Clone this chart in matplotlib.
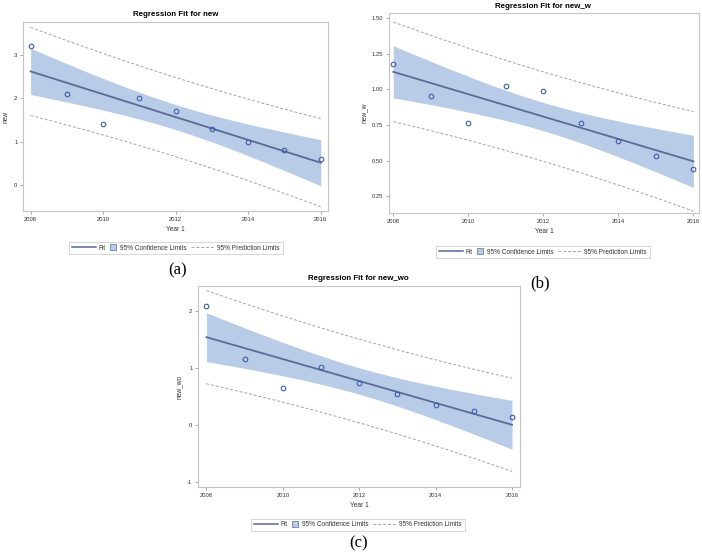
import numpy as np
import matplotlib.pyplot as plt
from matplotlib.lines import Line2D
from matplotlib.legend_handler import HandlerLine2D

years = [2008, 2009, 2010, 2011, 2012, 2013, 2014, 2015, 2016]
new = [3.2, 2.1, 1.4, 2.0, 1.7, 1.3, 1.0, 0.8, 0.6]
new_w = [1.18, 0.95, 0.76, 1.02, 0.99, 0.765, 0.635, 0.535, 0.44]
new_wo = [2.08, 1.16, 0.655, 1.02, 0.74, 0.54, 0.357, 0.25, 0.146]

T_975_DF7 = 2.3646  # t quantile for 95% limits with n-2 = 7 df

FILL = "#B8CCE7"
FIT = "#5A6B96"
MARK = "#3F5CAA"
PRED = "#A3A3A3"
FRAME = "#C4C4C4"
W, H = 702, 555


class SquareHandler(HandlerLine2D):
    # narrow handle box so the little square sits next to its text
    def legend_artist(self, legend, orig_handle, fontsize, handlebox):
        handlebox.width = fontsize * 1.1
        return super().legend_artist(legend, orig_handle, fontsize, handlebox)


def fig_rect(left, top, right, bottom):
    return [left / W, 1 - bottom / H, (right - left) / W, (bottom - top) / H]


def regression_panel(fig, rect, x, y, ylabel, yticks, ylim, xlim, fmt):
    ax = fig.add_axes(rect)
    x = np.asarray(x, float)
    y = np.asarray(y, float)
    n = len(x)
    xm = x.mean()
    sxx = ((x - xm) ** 2).sum()
    slope = ((x - xm) * (y - y.mean())).sum() / sxx
    icpt = y.mean() - slope * xm
    s = np.sqrt(((y - (icpt + slope * x)) ** 2).sum() / (n - 2))

    grid = np.linspace(x.min(), x.max(), 200)
    fit = icpt + slope * grid
    ci = T_975_DF7 * s * np.sqrt(1 / n + (grid - xm) ** 2 / sxx)
    pi = T_975_DF7 * s * np.sqrt(1 + 1 / n + (grid - xm) ** 2 / sxx)

    ax.fill_between(grid, fit - ci, fit + ci, color=FILL, lw=0, zorder=1)
    ax.plot(grid, fit + pi, color=PRED, lw=0.7, dashes=(3, 2), zorder=2)
    ax.plot(grid, fit - pi, color=PRED, lw=0.7, dashes=(3, 2), zorder=2)
    ax.plot(grid, fit, color=FIT, lw=1.3, zorder=3)
    ax.plot(x, y, "o", ms=3.3, mfc="none", mec=MARK, mew=0.8, zorder=4)

    ax.set_xlim(*xlim)
    ax.set_ylim(*ylim)
    ax.set_xticks([2008, 2010, 2012, 2014, 2016])
    ax.set_yticks(yticks)
    ax.set_yticklabels([fmt.format(v) for v in yticks])
    ax.tick_params(labelsize=4.2, length=2, width=0.5, color="#888888",
                   labelcolor="#333333", pad=2)
    for sp in ax.spines.values():
        sp.set_color(FRAME)
        sp.set_linewidth(0.8)
    ax.set_xlabel("Year 1", fontsize=4.8, color="#333333", labelpad=3)
    ax.set_ylabel(ylabel, fontsize=4.8, color="#333333", labelpad=3)
    return ax


plt.rcParams["font.family"] = ["Liberation Sans", "DejaVu Sans"]
fig = plt.figure(figsize=(7.02, 5.55), dpi=100)

ci_handle = Line2D([], [], ls="none", marker="s", ms=4, mfc=FILL, mec="#6C7FA8", mew=0.6)
handles = [
    Line2D([], [], color=FIT, lw=1.1),
    ci_handle,
    Line2D([], [], color=PRED, lw=0.7, dashes=(3, 2)),
]
labels = ["Fit", "95% Confidence Limits", "95% Prediction Limits"]

panels = [
    ("new", new, (23, 22, 328, 211), [0, 1, 2, 3], (-0.6, 3.76), (2007.79, 2016.2), "{:g}",
     (176, 15), (176, 248), (178, 270), "(a)"),
    ("new_w", new_w, (389, 13, 699, 213), [0.25, 0.5, 0.75, 1.0, 1.25, 1.5], (0.132, 1.535),
     (2007.885, 2016.15), "{:.2f}", (543, 6), (543, 252), (540, 283), "(b)"),
    ("new_wo", new_wo, (198, 286, 520, 487), [-1, 0, 1, 2], (-1.09, 2.44), (2007.78, 2016.21),
     "{:g}", (358, 278), (358, 525), (359, 543), "(c)"),
]

for name, vals, box, yt, yl, xl, fmt, tpos, lpos, spos, tag in panels:
    regression_panel(fig, fig_rect(*box), years, vals, name, yt, yl, xl, fmt)
    fig.text(tpos[0] / W, 1 - tpos[1] / H, f"Regression Fit for {name}",
             fontsize=5.7, fontweight="bold", ha="center", va="center")
    leg = fig.legend(handles, labels, loc="center", bbox_to_anchor=(lpos[0] / W, 1 - lpos[1] / H),
                     ncol=3, fontsize=4.7, frameon=True, fancybox=False, handlelength=3.6,
                     handletextpad=0.5, columnspacing=0.6, borderpad=0.45, labelcolor="#333333",
                     handler_map={ci_handle: SquareHandler()})
    leg.get_frame().set_edgecolor(FRAME)
    leg.get_frame().set_linewidth(0.6)
    fig.text(spos[0] / W, 1 - spos[1] / H, tag, fontsize=12, ha="center", va="center",
             family=["Liberation Serif", "DejaVu Serif"])

fig.savefig("out.png", dpi=100)
